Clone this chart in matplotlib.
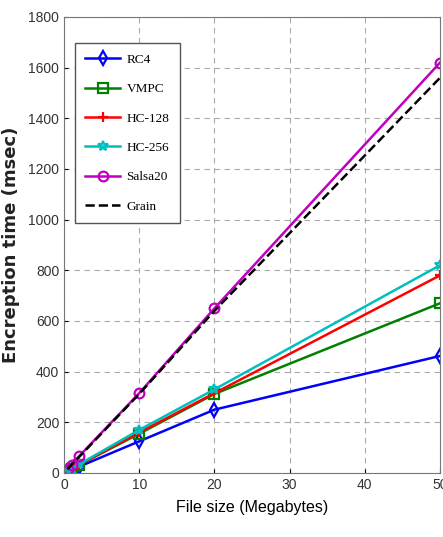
import matplotlib.pyplot as plt

file_size = [0.5, 1, 2, 10, 20, 50]

rc4 = [6, 12, 25, 125, 250, 462]
vmpc = [8, 16, 32, 155, 312, 670]
hc128 = [8, 16, 32, 160, 315, 780]
hc256 = [9, 17, 34, 170, 330, 820]
salsa20 = [17, 33, 66, 315, 650, 1620]
grain = [16, 32, 63, 312, 640, 1560]

series = [
    ('RC4', rc4, 'blue', 'd', '-'),
    ('VMPC', vmpc, 'green', 's', '-'),
    ('HC-128', hc128, 'red', '+', '-'),
    ('HC-256', hc256, 'c', '*', '-'),
    ('Salsa20', salsa20, 'm', 'o', '-'),
    ('Grain', grain, 'black', None, '--'),
]

figure = plt.figure(figsize=(4.43, 5.37), dpi=100)
axes = figure.add_axes([64 / 443, 64 / 537, 376 / 443, 456 / 537])

for name, values, color, marker, style in series:
    axes.plot(file_size, values, color=color, marker=marker, linestyle=style,
              linewidth=1.8, markersize=7, markerfacecolor='none',
              markeredgewidth=1.6, label=name)

axes.set_xlim(0, 50)
axes.set_ylim(0, 1800)
axes.set_xticks([0, 10, 20, 30, 40, 50])
axes.set_yticks(range(0, 1801, 200))
axes.grid(True, linestyle=(0, (5, 4)), color='#aaaaaa', linewidth=0.8)
axes.tick_params(labelsize=10, direction='in', length=3)
for label in axes.get_xticklabels() + axes.get_yticklabels():
    label.set_family('Liberation Sans')
    label.set_color('#333333')

axes.set_xlabel('File size (Megabytes)', fontsize=11.5, family='Liberation Sans', labelpad=6)
axes.set_ylabel('Encreption time (msec)', fontsize=13, family='DejaVu Sans',
                fontweight='bold', labelpad=6, color='#222222')
for spine in axes.spines.values():
    spine.set_color('#777777')

axes.legend(loc='upper left', bbox_to_anchor=(0.029, 0.943), borderaxespad=0,
            prop={'family': 'Liberation Serif', 'size': 9.5},
            fancybox=False, edgecolor='#555555', handlelength=2.6, labelspacing=1.3,
            borderpad=0.8, handletextpad=0.5, framealpha=1)

figure.savefig('out.png', dpi=100)
